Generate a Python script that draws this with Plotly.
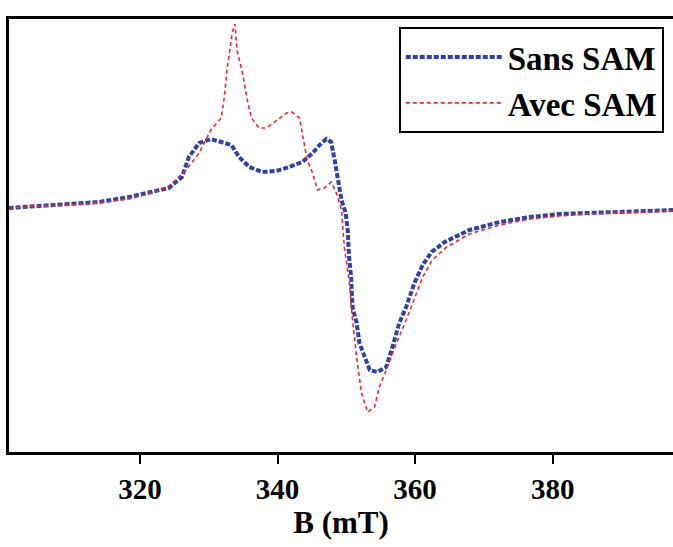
import plotly.graph_objects as go

# Magnetic field (mT) and EPR signal (arbitrary units)
b_sans = [300.9, 305.3, 309.7, 314.0, 318.4, 321.3, 324.2, 326.1, 327.1, 328.6, 330.3, 331.8,
          333.3, 334.4, 335.9, 337.8, 339.8, 341.7, 343.6, 345.1, 346.1, 347.1, 347.8, 348.3,
          348.7, 349.3, 349.9, 350.2, 350.4, 350.7, 350.9, 351.5, 351.9, 352.6, 353.4, 354.5,
          355.8, 356.7, 357.7, 358.7, 359.9, 361.1, 362.4, 364.3, 367.9, 372.3, 376.7, 381.0,
          385.4, 389.8, 394.1, 397.5]
i_sans = [-1, 1, 3, 5, 10, 14, 19, 30, 50, 64, 68, 65,
          62, 50, 40, 35, 36, 40, 45, 54, 62, 68, 65, 47,
          30, 7, -6, -23, -50, -70, -100, -116, -136, -150, -163, -165,
          -160, -140, -116, -100, -76, -58, -45, -35, -23, -15, -10, -7,
          -6, -5, -4, -3]

b_avec = [300.9, 305.3, 309.7, 314.0, 318.4, 321.3, 324.2, 326.7, 328.6, 330.3, 331.8, 332.2,
          332.7, 333.4, 333.8, 334.1, 334.9, 335.6, 336.2, 337.3, 338.4, 340.0, 341.3, 342.1,
          343.2, 343.7, 344.3, 345.1, 345.8, 346.8, 347.8, 348.5, 349.3, 349.7, 350.4, 350.9,
          351.5, 352.2, 353.1, 354.1, 354.8, 355.8, 357.3, 358.7, 359.9, 361.1, 362.5, 364.6,
          367.9, 372.3, 376.7, 381.0, 385.4, 389.8, 394.1, 397.5]
i_avec = [-1, 1, 2, 4, 8, 13, 21, 37, 54, 77, 89, 107,
          140, 174, 183, 157, 134, 107, 89, 79, 79, 87, 94, 95,
          89, 70, 47, 34, 17, 19, 25, 15, -3, -40, -73, -113,
          -150, -186, -205, -200, -180, -163, -136, -113, -91, -70, -53, -40,
          -27, -18, -12, -9, -7, -6, -5, -4]

series_names = ["Sans SAM", "Avec SAM"]
tick_vals = [320, 340, 360, 380]
tick_text = ["320", "340", "360", "380"]

BLUE = "#2f43a6"
RED = "#ec2a33"
FONT = "Liberation Serif, Times New Roman, Times, serif"

fig = go.Figure()
fig.add_trace(go.Scatter(x=b_sans, y=i_sans, mode="lines", name=series_names[0],
                         line=dict(color=BLUE, width=4, dash="5px,2px")))
fig.add_trace(go.Scatter(x=b_avec, y=i_avec, mode="lines", name=series_names[1],
                         line=dict(color=RED, width=1.6, dash="4px,3px")))

fig.update_layout(
    width=673, height=547,
    margin=dict(l=9, r=0, t=19, b=95),
    paper_bgcolor="white", plot_bgcolor="white",
    font=dict(family=FONT, size=28, color="black", weight="bold"),
    showlegend=True,
    legend=dict(
        x=0.587, y=0.9815, xanchor="left", yanchor="top",
        bgcolor="white", bordercolor="black", borderwidth=2,
        font=dict(family=FONT, size=33, weight="bold"),
        itemwidth=97, tracegroupgap=0,
    ),
    xaxis=dict(
        range=[300.95, 397.5], showgrid=False, zeroline=False,
        showline=True, linecolor="black", linewidth=3, mirror=True,
        ticks="outside", ticklen=9, tickwidth=2, tickcolor="black",
        tickvals=tick_vals, ticktext=tick_text,
        tickfont=dict(family=FONT, size=29, weight="bold"),
        title=dict(text="B (mT)", font=dict(family=FONT, size=31, weight="bold"), standoff=6),
    ),
    yaxis=dict(
        range=[-245, 188], showgrid=False, zeroline=False,
        showline=True, linecolor="black", linewidth=3, mirror=False,
        showticklabels=False, ticks="",
    ),
)

fig.write_html("out.html", config={"displayModeBar": False},
               post_script="document.body.style.margin='0';")
